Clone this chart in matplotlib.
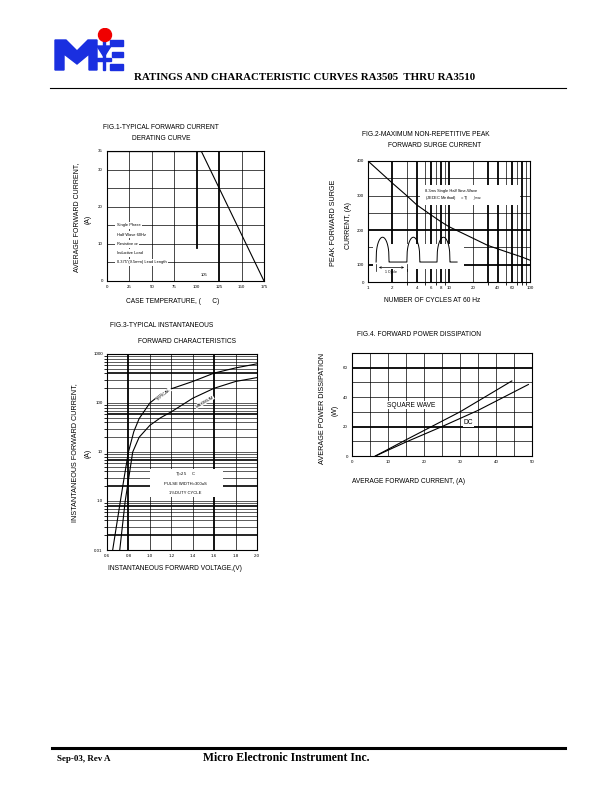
import numpy as np
import matplotlib
matplotlib.use('Agg')
import matplotlib.pyplot as plt
from matplotlib.patches import Polygon, Rectangle, Circle

W, H = 612, 792

# Fig.1 derating curve
derate_temp = [0, 105, 175]
derate_amp = [35, 35, 0]
derate_xticks = [0, 25, 50, 75, 100, 125, 150, 175]
derate_yticks = [0, 10, 20, 30, 35]

# Fig.2 surge current
surge_cycles = [1, 2, 3, 4, 6, 8, 10, 20, 30, 50, 80, 100]
surge_amp = [400, 336, 300, 273, 244, 224, 210, 176, 156, 138, 122, 113]
surge_xticks = [1, 2, 4, 6, 8, 10, 20, 40, 60, 100]
surge_yticks = [50, 100, 200, 300, 400]
surge_ylabels = ['0', '100', '200', '300', '400']

# Fig.3 forward characteristics
typ_volt = [0.653, 0.725, 0.76, 0.80, 0.85, 0.90, 1.0, 1.1, 1.2, 1.4, 1.6, 1.8, 2.0]
typ_amp = [0.1, 1, 3, 10, 26, 48, 100, 150, 195, 275, 408, 520, 630]
max_volt = [0.719, 0.77, 0.84, 0.90, 1.0, 1.1, 1.2, 1.4, 1.6, 1.8, 2.0]
max_amp = [0.1, 1, 10, 20, 35, 50, 66, 125, 200, 275, 330]
vf_xticks = [0.6, 0.8, 1.0, 1.2, 1.4, 1.6, 1.8, 2.0]
vf_yticks = [0.1, 1, 10, 100, 1000]
vf_ylabels = ['0.01', '1.0', '10', '100', '1000']

# Fig.4 power dissipation
sq_amp = [6.5, 15, 30, 44.4]
sq_watt = [0, 11, 30, 51]
dc_amp = [6.5, 15, 25, 35, 49]
dc_watt = [0, 9.5, 20, 31, 48.6]
pd_xticks = [0, 10, 20, 30, 40, 50]
pd_yticks = [0, 20, 40, 60]

plt.rcParams['font.family'] = ['Liberation Sans', 'DejaVu Sans']
SERIF = ['Liberation Serif', 'DejaVu Serif']

fig = plt.figure(figsize=(6.12, 7.92), dpi=100)


def px(x, y):
    return x / W, 1 - y / H


def box(x0, y0, x1, y1):
    return fig.add_axes([x0 / W, 1 - y1 / H, (x1 - x0) / W, (y1 - y0) / H])


def style(ax):
    for s in ax.spines.values():
        s.set_linewidth(0.8)
    ax.tick_params(length=0, labelsize=3.2, pad=3)
    ax.minorticks_off()


def ftext(x, y, s, size=4.8, **kw):
    fig.text(*px(x, y), s, fontsize=size, **kw)


# ---- header / footer ----
lg = fig.add_axes([50 / W, 1 - 75 / H, 80 / W, 47 / H])
lg.set_xlim(50, 130)
lg.set_ylim(75, 28)
lg.axis('off')
blue = '#1a2fe0'
lg.add_patch(Polygon([(55, 70), (55, 40), (66, 40), (77, 51), (88, 40), (97, 40),
                      (97, 70), (89, 70), (89, 54), (77, 64), (64, 54), (64, 70)],
                     closed=True, color=blue))
lg.add_patch(Polygon([(97, 46), (111, 46), (104, 57)], closed=True, color=blue))
lg.add_patch(Rectangle((97, 58), 14, 3, color=blue))
lg.add_patch(Rectangle((103, 40), 2, 30, color=blue))
lg.add_patch(Rectangle((110, 40), 13, 6, color=blue))
lg.add_patch(Rectangle((112, 52), 11, 5, color=blue))
lg.add_patch(Rectangle((110, 64), 13, 6, color=blue))
lg.add_patch(Circle((105, 35), 6.5, color='#f00000'))

ftext(305, 77, 'RATINGS AND CHARACTERISTIC CURVES RA3505  THRU RA3510', size=7.8,
      family=SERIF, weight='bold', ha='center', va='center')
fig.add_artist(plt.Line2D([50 / W, 566 / W], [1 - 88 / H] * 2, lw=0.8, color='black'))
fig.add_artist(plt.Line2D([52 / W, 565 / W], [1 - 748 / H] * 2, lw=2.2, color='black'))
ftext(57, 759, 'Sep-03, Rev A', size=6.5, family=SERIF, weight='bold', va='center')
ftext(203, 758, 'Micro Electronic Instrument Inc.', size=8.5, family=SERIF,
      weight='bold', va='center')

# ---- Fig.1 ----
ax1 = box(107, 151, 264, 281)
style(ax1)
ax1.set_xlim(0, 175)
ax1.set_ylim(0, 35)
for v in [25, 50, 75, 150]:
    ax1.axvline(v, color='black', lw=0.5)
ax1.axvline(100, ymin=9 / 35, ymax=1, color='black', lw=1.3)
ax1.axvline(125, color='black', lw=1.3)
for v in range(5, 35, 5):
    ax1.axhline(v, color='black', lw=0.5)
ax1.plot(derate_temp, derate_amp, color='black', lw=0.8)
ax1.axhline(35, xmax=105 / 175, color='black', lw=1.6)
ax1.set_xticks(derate_xticks)
ax1.set_yticks(derate_yticks)
ax1.text(105, 1.2, '105', fontsize=3.0, ha='left', va='bottom')
notes = ['Single Phase', 'Half Wave 60Hz', 'Resistive or', 'Inductive Load',
         '0.375"(9.5mm) Lead Length']
for i, s in enumerate(notes):
    ax1.text(11, 15 - i * 2.5, s, fontsize=2.9, va='center', zorder=5,
             bbox=dict(facecolor='white', edgecolor='none', pad=1.2))
ftext(103, 129, 'FIG.1-TYPICAL FORWARD CURRENT')
ftext(132, 140, 'DERATING CURVE')
ftext(77, 217, 'AVERAGE FORWARD CURRENT,', size=5, rotation=90, ha='center', va='center')
ftext(88, 219, '(A)', size=5, rotation=90, ha='center', va='center')
ftext(173, 302, 'CASE TEMPERATURE, (      C)', ha='center', va='center')

# ---- Fig.2 ----
ax2 = box(368, 161, 530, 282)
style(ax2)
ax2.set_xscale('log')
ax2.set_xlim(1, 100)
ax2.set_ylim(50, 400)
bold2 = [2, 4, 6, 8, 10, 30, 40, 60, 80]
for v in [2, 3, 4, 5, 6, 7, 8, 9, 10, 20, 30, 40, 50, 60, 70, 80, 90]:
    ax2.axvline(v, color='black', lw=1.3 if v in bold2 else 0.5)
for v in [100, 150, 200, 250, 300, 350]:
    ax2.axhline(v, color='black', lw=1.3 if v in (100, 200) else 0.5)
ax2.plot(surge_cycles, surge_amp, color='black', lw=0.8, zorder=4)
ax2.set_xticks(surge_xticks)
ax2.set_xticklabels([str(v) for v in surge_xticks])
ax2.set_yticks(surge_yticks)
ax2.set_yticklabels(surge_ylabels)
ax2.add_patch(Rectangle((0.03, 0.11), 0.56, 0.20, transform=ax2.transAxes,
                        facecolor='white', edgecolor='none', zorder=3))
ax2.add_patch(Rectangle((0.32, 0.64), 0.62, 0.16, transform=ax2.transAxes,
                        facecolor='white', edgecolor='none', zorder=3))
ax2.text(0.35, 0.75, '8.3ms Single Half Sine-Wave', transform=ax2.transAxes,
         fontsize=2.9, va='center', zorder=5)
ax2.text(0.35, 0.69, '(JEDEC Method)     =T$_J$      $_{J\\,max}$', transform=ax2.transAxes,
         fontsize=2.9, va='center', zorder=5)
# waveform sketch
t = np.linspace(0, np.pi, 40)
base, top = 0.165, 0.37
starts = [0.05, 0.24, 0.426]
width = 0.08
wx, wy = [], []
for a in starts:
    wx += list(a + width * t / np.pi)
    wy += list(base + (top - base) * np.sin(t) ** 0.35)
    wx.append(a + width + 0.001)
    wy.append(base)
wx.append(0.55)
wy.append(base)
ax2.plot(wx, wy, color='black', lw=0.7, transform=ax2.transAxes, zorder=5)
ax2.annotate('', xy=(0.24, 0.12), xytext=(0.05, 0.12), xycoords='axes fraction',
             arrowprops=dict(arrowstyle='<->', lw=0.5, mutation_scale=3), zorder=5)
ax2.plot([0.05, 0.05], [0.09, 0.15], color='black', lw=0.5, transform=ax2.transAxes, zorder=5)
ax2.plot([0.24, 0.24], [0.09, 0.15], color='black', lw=0.5, transform=ax2.transAxes, zorder=5)
ax2.text(0.145, 0.08, '1 Cycle', transform=ax2.transAxes, fontsize=2.6,
         ha='center', va='center', zorder=6)
ftext(362, 136, 'FIG.2-MAXIMUM NON-REPETITIVE PEAK')
ftext(388, 147, 'FORWARD SURGE CURRENT')
ftext(334, 223, 'PEAK FORWARD SURGE', size=5.2, rotation=90, ha='center', va='center')
ftext(348, 225, 'CURRENT, (A)', size=5, rotation=90, ha='center', va='center')
ftext(432, 301, 'NUMBER OF CYCLES AT 60 Hz', ha='center', va='center')

# ---- Fig.3 ----
ax3 = box(107, 354, 257, 550)
style(ax3)
ax3.set_yscale('log')
ax3.set_xlim(0.6, 2.0)
ax3.set_ylim(0.1, 1000)
for v in [1.0, 1.2, 1.4, 1.8]:
    ax3.axvline(v, color='black', lw=0.5)
for v in [0.8, 1.6]:
    ax3.axvline(v, color='black', lw=1.3)
bold3 = [0.2, 0.8, 2, 7, 60, 400]
for e in range(-1, 3):
    for k in range(1, 10):
        if e == -1 and k == 1:
            continue
        v = k * 10 ** e
        ax3.axhline(v, color='black', lw=1.2 if any(np.isclose(v, bold3)) else 0.45)
ax3.plot(typ_volt, typ_amp, color='black', lw=0.8, zorder=4)
ax3.plot(max_volt, max_amp, color='black', lw=0.8, zorder=4)
ax3.set_xticks(vf_xticks)
ax3.set_xticklabels(['%.1f' % v for v in vf_xticks])
ax3.set_yticks(vf_yticks)
ax3.set_yticklabels(vf_ylabels)
ax3.text(1.13, 150, 'TYPICAL', fontsize=3, rotation=40, ha='center', va='center',
         zorder=6, bbox=dict(facecolor='white', edgecolor='none', pad=0.3))
ax3.text(1.51, 105, 'MAXIMUM', fontsize=3, rotation=30, ha='center', va='center',
         zorder=6, bbox=dict(facecolor='white', edgecolor='none', pad=0.3))
ax3.add_patch(Rectangle((1.0, 1.2), 0.68, 3.2, facecolor='white', edgecolor='none', zorder=3))
ax3.text(1.33, 3.4, 'T$_J$=25     C', fontsize=3, ha='center', va='center', zorder=5)
ax3.text(1.33, 2.2, 'PULSE WIDTH=300uS', fontsize=3, ha='center', va='center', zorder=5)
ax3.text(1.33, 1.45, '1%DUTY CYCLE', fontsize=3, ha='center', va='center', zorder=5)
ftext(110, 327, 'FIG.3-TYPICAL INSTANTANEOUS')
ftext(138, 343, 'FORWARD CHARACTERISTICS')
ftext(75, 453, 'INSTANTANEOUS FORWARD CURRENT,', size=5.2, rotation=90, ha='center', va='center')
ftext(88, 453, '(A)', size=5, rotation=90, ha='center', va='center')
ftext(175, 568, 'INSTANTANEOUS FORWARD VOLTAGE,(V)', ha='center', va='center')

# ---- Fig.4 ----
ax4 = box(352, 353, 532, 456)
style(ax4)
ax4.set_xlim(0, 50)
ax4.set_ylim(0, 70)
for v in range(5, 50, 5):
    ax4.axvline(v, color='black', lw=0.5)
for v in range(10, 70, 10):
    ax4.axhline(v, color='black', lw=1.3 if v in (20, 60) else 0.5)
ax4.plot(sq_amp, sq_watt, color='black', lw=0.8)
ax4.plot(dc_amp, dc_watt, color='black', lw=0.8)
ax4.set_xticks(pd_xticks)
ax4.set_yticks(pd_yticks)
ax4.text(9.8, 34.5, 'SQUARE WAVE', fontsize=4.8, va='center', zorder=5,
         bbox=dict(facecolor='white', edgecolor='none', pad=0.5))
ax4.text(31, 22.5, 'DC', fontsize=4.8, va='center', zorder=5,
         bbox=dict(facecolor='white', edgecolor='none', pad=0.5))
ftext(357, 336, 'FIG.4. FORWARD POWER DISSIPATION')
ftext(323, 408, 'AVERAGE POWER DISSIPATION', size=5.2, rotation=90, ha='center', va='center')
ftext(335, 410, '(W)', size=5, rotation=90, ha='center', va='center')
ftext(409, 481, 'AVERAGE FORWARD CURRENT, (A)', ha='center', va='center')

fig.savefig('out.png', dpi=100)
